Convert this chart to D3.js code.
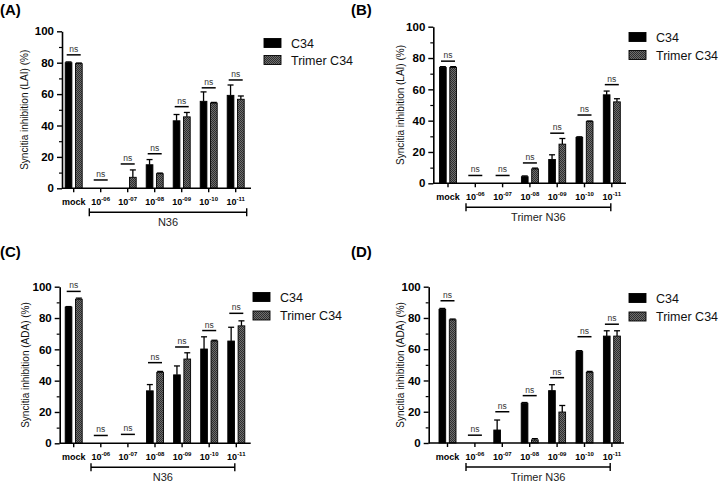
<!DOCTYPE html>
<html><head><meta charset="utf-8">
<script src="https://cdn.jsdelivr.net/npm/d3@7"></script>
<style>
html,body{margin:0;padding:0;background:#fff;}
svg{display:block;font-family:Arial,"Liberation Sans",sans-serif;}
</style></head>
<body>
<svg id="chart" width="720" height="482"></svg>
<script>
// ---------- data ----------
const categories = ["mock","10^-06","10^-07","10^-08","10^-09","10^-10","10^-11"];
const tickBase = ["mock","10","10","10","10","10","10"];
const tickExp  = ["","-06","-07","-08","-09","-10","-11"];
const series = ["C34","Trimer C34"];
const yTicks = [0,20,40,60,80,100];
const yMinorTicks = [10,30,50,70,90];

// Panel A: LAI, N36
const aC34    = [80, 0, 0, 15, 43, 55.4, 59.2];
const aC34Err = [0.5, 0, 0, 3.3, 4, 6, 6.6];
const aTri    = [79.4, 0, 7, 9.3, 45.5, 54.3, 56.7];
const aTriErr = [0.4, 0, 4.7, 0.4, 2.8, 0.4, 2.1];
const aNs     = [85, 5.3, 15.5, 22, 52, 64, 69];
// Panel B: LAI, Trimer N36
const bC34    = [74, 0, 0, 4.2, 15.2, 29.3, 56.5];
const bC34Err = [0.5, 0, 0, 0.5, 3, 0.4, 2.4];
const bTri    = [74, 0, 0, 9.2, 25, 39.4, 52];
const bTriErr = [0.5, 0, 0, 0.5, 3.6, 0.4, 2];
const bNs     = [78, 5, 5, 13, 32, 43.6, 63];
// Panel C: ADA, N36
const cC34    = [87, 0, 0, 33.5, 43.7, 60.2, 65.3];
const cC34Err = [0.3, 0, 0, 4, 5.7, 7.8, 8.8];
const cTri    = [92, 0, 0, 45.3, 53.8, 65.3, 75];
const cTriErr = [0.7, 0, 0, 0.6, 4, 0.5, 3.2];
const cNs     = [97, 5, 5.7, 51.5, 61.5, 72, 83];
// Panel D: ADA, Trimer N36
const dC34    = [85.5, 0, 8.3, 25.4, 33.5, 58.5, 68.4];
const dC34Err = [0.6, 0, 6.4, 0.5, 3.8, 0.6, 3.4];
const dTri    = [78.8, 0, 0, 2, 19.8, 45.2, 68.4];
const dTriErr = [0.5, 0, 0, 0.8, 4.2, 0.6, 3.4];
const dNs     = [91, 5, 20, 30.3, 41.8, 68, 76];

const panelLabels = ["(A)","(B)","(C)","(D)"];
const yTitles = ["Syncitia inhibition (LAI) (%)","Syncitia inhibition (LAI) (%)","Syncitia inhibition (ADA) (%)","Syncitia inhibition (ADA) (%)"];
const groupLabels = ["N36","Trimer N36","N36","Trimer N36"];
const sigText = "ns";

// ---------- layout ----------
const layouts = [
  {axisX:62,   y0:188.3, y100:31.3,  first:73.7,  step:27,   axisEnd:251,   brL:-11.4, brR:11,   legX:264, legY:[43,60],      titleX:24.5,  labX:0,   labY:15},
  {axisX:433.3,y0:183.3, y100:26.7,  first:448,   step:27.3, axisEnd:626,   brL:-9.3,  brR:-1,   legX:629, legY:[37,55],      titleX:400,   labX:351, labY:15},
  {axisX:59.7, y0:443.3, y100:286.7, first:73.7,  step:27.1, axisEnd:250.7, brL:-9.8,  brR:-1.5, legX:253, legY:[297,315.5],  titleX:25.5,  labX:0,   labY:257},
  {axisX:428.7,y0:443,   y100:286.7, first:447.5, step:27.4, axisEnd:624,   brL:-8.9,  brR:-1.7, legX:629, legY:[298,316.5],  titleX:400.5, labX:351, labY:257}
];
const panelData = [
  [aC34,aC34Err,aTri,aTriErr,aNs],
  [bC34,bC34Err,bTri,bTriErr,bNs],
  [cC34,cC34Err,cTri,cTriErr,cNs],
  [dC34,dC34Err,dTri,dTriErr,dNs]
];

const svg = d3.select("#chart");
const defs = svg.append("defs");
const pat = defs.append("pattern").attr("id","dots").attr("patternUnits","userSpaceOnUse")
  .attr("width",2).attr("height",2);
pat.append("rect").attr("width",2).attr("height",2).attr("fill","#6e6e6e");
pat.append("rect").attr("width",1).attr("height",1).attr("fill","#2e2e2e");
pat.append("rect").attr("x",1).attr("y",1).attr("width",1).attr("height",1).attr("fill","#2e2e2e");
const fills = ["#000","url(#dots)"];

layouts.forEach((L, pi) => {
  const [v1,e1,v2,e2,ns] = panelData[pi];
  const g = svg.append("g");
  const y = d3.scaleLinear().domain([0,100]).range([L.y0, L.y100]);
  const x = d3.scaleBand().domain(categories)
    .range([L.first - L.step/2, L.first - L.step/2 + categories.length*L.step]).paddingInner(0).paddingOuter(0);
  const x1 = d3.scaleBand().domain(series).range([-8.5, 8.5]).paddingInner(0.35).paddingOuter(0);
  const cx = c => x(c) + x.bandwidth()/2;

  g.append("text").attr("x",L.labX).attr("y",L.labY).attr("font-size",15).attr("font-weight","bold")
    .text(panelLabels[pi]);

  const vals = [v1,v2], errs = [e1,e2];
  series.forEach((s, si) => {
    const rows = categories.map((c,i)=>({c, v: vals[si][i], e: errs[si][i]})).filter(d=>d.v>0);
    g.selectAll(null).data(rows).enter().append("rect")
      .attr("x", d => cx(d.c) + x1(s))
      .attr("width", x1.bandwidth())
      .attr("y", d => y(d.v))
      .attr("height", d => y(0) - y(d.v))
      .attr("fill", fills[si]).attr("stroke","#000").attr("stroke-width",0.9);
    const eb = rows.filter(d=>d.e>0);
    g.selectAll(null).data(eb).enter().append("line")
      .attr("x1", d => cx(d.c) + x1(s) + x1.bandwidth()/2)
      .attr("x2", d => cx(d.c) + x1(s) + x1.bandwidth()/2)
      .attr("y1", d => y(d.v)).attr("y2", d => y(d.v + d.e))
      .attr("stroke","#000").attr("stroke-width",1.3);
    g.selectAll(null).data(eb).enter().append("line")
      .attr("x1", d => cx(d.c) + x1(s) + x1.bandwidth()/2 - 3)
      .attr("x2", d => cx(d.c) + x1(s) + x1.bandwidth()/2 + 3)
      .attr("y1", d => y(d.v + d.e)).attr("y2", d => y(d.v + d.e))
      .attr("stroke","#000").attr("stroke-width",1.3);
  });

  const sig = categories.map((c,i)=>({c, v: ns[i]}));
  g.selectAll(null).data(sig).enter().append("line")
    .attr("x1", d => cx(d.c) - 7).attr("x2", d => cx(d.c) + 7)
    .attr("y1", d => y(d.v)).attr("y2", d => y(d.v))
    .attr("stroke","#000").attr("stroke-width",1.5);
  g.selectAll(null).data(sig).enter().append("text")
    .attr("x", d => cx(d.c)).attr("y", d => y(d.v) - 3)
    .attr("text-anchor","middle").attr("font-size",8.5).attr("fill","#333")
    .text(sigText);

  const ya = g.append("g").attr("transform",`translate(${L.axisX},0)`)
    .call(d3.axisLeft(y).tickValues(yTicks).tickSize(5).tickSizeOuter(0).tickPadding(3));
  ya.select(".domain").attr("stroke-width",1.6);
  ya.selectAll(".tick line").attr("stroke-width",1.4);
  ya.selectAll(".tick text").attr("font-size",11.5).attr("font-weight","bold").attr("font-family",null).attr("fill","#000");
  const ym = g.append("g").attr("transform",`translate(${L.axisX},0)`)
    .call(d3.axisLeft(y).tickValues(yMinorTicks).tickSize(3).tickSizeOuter(0).tickFormat(""));
  ym.select(".domain").remove();
  ym.selectAll(".tick line").attr("stroke-width",1.2);

  const xa = g.append("g").attr("transform",`translate(0,${L.y0})`)
    .call(d3.axisBottom(x).tickSize(4).tickSizeOuter(0).tickFormat(""));
  xa.select(".domain").remove();
  xa.selectAll(".tick line").attr("stroke-width",1.4);
  g.append("line").attr("x1",L.axisX).attr("x2",L.axisEnd).attr("y1",L.y0).attr("y2",L.y0)
    .attr("stroke","#000").attr("stroke-width",1.6);
  const tl = g.selectAll(null).data(categories).enter().append("text")
    .attr("x", d => cx(d)).attr("y", L.y0 + 17).attr("text-anchor","middle")
    .attr("font-size",9).attr("font-weight","bold");
  tl.append("tspan").text((d,i)=>tickBase[i]);
  tl.append("tspan").attr("dy",-4).attr("font-size",6).text((d,i)=>tickExp[i]);

  const bx1 = cx(categories[1]) + L.brL, bx2 = cx(categories[categories.length-1]) + L.brR;
  const by = L.y0 + 24;
  g.append("line").attr("x1",bx1).attr("x2",bx2).attr("y1",by).attr("y2",by).attr("stroke","#000").attr("stroke-width",1.4);
  [bx1,bx2].forEach(bx => g.append("line").attr("x1",bx).attr("x2",bx).attr("y1",by-4).attr("y2",by+4).attr("stroke","#000").attr("stroke-width",1.4));
  g.append("text").attr("x",(bx1+bx2)/2).attr("y",L.y0+38).attr("text-anchor","middle")
    .attr("font-size",11).attr("fill","#222").text(groupLabels[pi]);

  g.append("text").attr("transform",`translate(${L.titleX + 3.5},${(L.y0+L.y100)/2}) rotate(-90)`)
    .attr("text-anchor","middle").attr("font-size",10).attr("fill","#111").text(yTitles[pi]);

  series.forEach((s, si) => {
    g.append("rect").attr("x",L.legX).attr("y",L.legY[si]-4.5).attr("width",17).attr("height",9)
      .attr("fill",fills[si]).attr("stroke","#000").attr("stroke-width",0.9);
    g.append("text").attr("x",L.legX+27).attr("y",L.legY[si]+4.5).attr("font-size",12.5).attr("fill","#111").text(s);
  });
});
</script>
</body></html>
